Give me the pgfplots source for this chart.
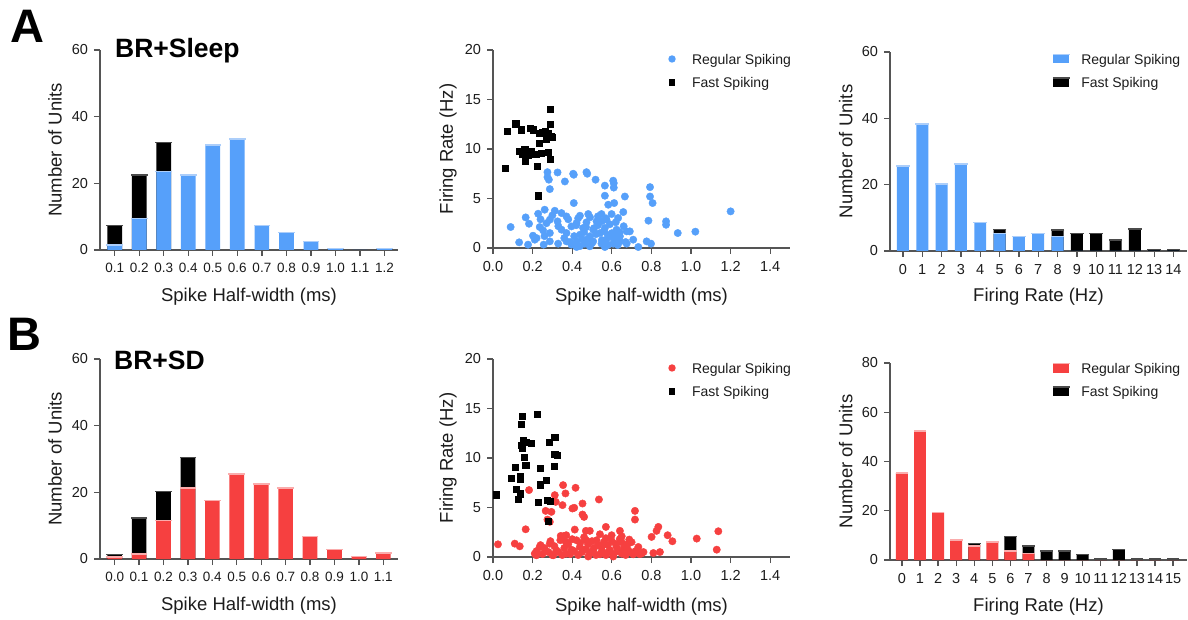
\documentclass[border=0pt]{standalone}
\usepackage{pgfplots}
\pgfplotsset{compat=1.18}
\usepackage{pgfplotstable}
\usepackage{fontspec}
\setmainfont{Liberation Sans}

\definecolor{rsBlue}{RGB}{86,160,250}
\definecolor{rsBlueCap}{RGB}{172,206,250}
\definecolor{rsRed}{RGB}{246,64,64}
\definecolor{rsRedCap}{RGB}{250,172,172}
\definecolor{fsCap}{RGB}{75,75,75}
\definecolor{axgray}{RGB}{85,85,85}
\definecolor{ink}{RGB}{28,28,28}

\newcommand{\axlab}{\fontsize{18.5pt}{22pt}\selectfont}
\newcommand{\ticklab}{\fontsize{14.5pt}{17pt}\selectfont}
\newcommand{\ticklabsm}{\fontsize{13.5pt}{16pt}\selectfont}
\newcommand{\leglab}{\fontsize{14pt}{17pt}\selectfont}

% ---------- histograms: regular / fast spiking counts per bin ----------
\pgfplotstableread{
bin reg fast
0  1.5  5.8
1  9.5  13.0
2  23.5 8.8
3  22.5 0
4  31.5 0
5  33.3 0
6  7.3  0
7  5.3  0
8  2.5  0
9  0.5  0
10 0    0
11 0.5  0
}\hwSleep

\pgfplotstableread{
bin reg fast
0  25.6 0
1  38.3 0
2  20.2 0
3  26.3 0
4  8.6  0
5  5.3  1.2
6  4.3  0
7  5.3  0
8  4.3  2.0
9  0    5.3
10 0    5.3
11 0    3.3
12 0    6.6
13 0    0.5
14 0    0.5
}\frSleep

\pgfplotstableread{
bin reg fast
0  0.6  0.7
1  1.5  10.8
2  11.6 8.7
3  21.3 9.2
4  17.6 0
5  25.5 0
6  22.5 0
7  21.3 0
8  6.7  0
9  2.8  0
10 0.7  0
11 1.8  0
}\hwSD

\pgfplotstableread{
bin reg fast
0  35.4 0
1  52.3 0
2  19.2 0
3  8.1  0
4  5.7  1.1
5  7.4  0
6  3.7  5.8
7  2.6  3.1
8  0    3.7
9  0    3.7
10 0    2.3
11 0    0.4
12 0    4.3
13 0    0.4
14 0    0.4
15 0    0.4
}\frSD

% ---------- scatter: spike half-width (ms) vs firing rate (Hz) ----------
\pgfplotstableread{
x y
0.287 14.04
0.287 12.5
0.115 12.56
0.073 11.8
0.143 11.95
0.189 12.1
0.203 11.95
0.236 11.6
0.262 11.8
0.275 11.4
0.295 11.3
0.267 11.0
0.233 10.6
0.132 9.76
0.160 9.93
0.149 9.5
0.177 9.4
0.164 8.75
0.216 9.5
0.245 9.6
0.278 9.66
0.290 9.0
0.062 8.08
0.223 8.25
0.228 5.29
0.300 11.2
0.280 11.6
0.190 9.8
0.250 11.7
}\fsSleep

\pgfplotstableread{
x y
0.275 7.66
0.326 7.63
0.405 7.5
0.408 7.4
0.472 7.66
0.476 7.5
0.275 7.16
0.282 6.9
0.363 6.72
0.518 6.9
0.607 6.8
0.610 6.55
0.565 6.3
0.610 6.1
0.793 6.15
0.287 5.95
0.565 5.28
0.666 5.2
0.793 5.2
0.806 4.54
0.408 4.54
0.582 4.37
0.612 4.54
1.200 3.7
0.261 3.87
0.312 3.76
0.228 3.46
0.346 3.53
0.371 3.19
0.439 3.26
0.481 3.43
0.548 3.43
0.599 3.43
0.658 3.63
0.165 3.09
0.287 2.86
0.326 2.69
0.422 2.52
0.472 2.59
0.523 2.69
0.573 2.86
0.632 3.03
0.785 2.76
0.874 2.69
0.874 2.35
0.089 2.12
0.182 2.45
0.236 2.12
0.253 1.78
0.346 1.85
0.396 2.18
0.455 2.02
0.506 1.85
0.565 2.02
0.624 1.85
0.675 1.68
0.691 1.68
0.933 1.51
1.022 1.65
0.202 1.24
0.287 1.51
0.371 1.51
0.439 1.34
0.489 1.18
0.540 1.51
0.590 1.18
0.641 1.18
0.708 0.84
0.132 0.57
0.177 0.34
0.211 0.84
0.256 0.34
0.287 0.67
0.329 0.44
0.371 0.67
0.396 0.34
0.422 0.67
0.464 0.44
0.506 0.67
0.548 0.44
0.573 0.84
0.607 0.44
0.641 0.67
0.675 0.44
0.734 0.10
0.776 0.67
0.798 0.44
0.565 0.10
0.422 0.10
0.489 0.17
0.30 3.3
0.33 2.2
0.36 1.0
0.38 2.9
0.41 1.2
0.43 3.0
0.45 0.9
0.47 2.1
0.49 3.1
0.50 0.5
0.52 1.4
0.53 2.3
0.55 0.8
0.56 1.7
0.57 3.0
0.58 0.3
0.59 2.4
0.60 1.5
0.61 0.9
0.62 2.6
0.63 0.3
0.64 1.6
0.66 2.2
0.67 0.6
0.55 2.7
0.51 2.0
0.46 1.6
0.42 2.3
0.39 0.6
0.27 2.5
0.24 2.9
0.22 1.0
0.26 1.2
0.48 0.9
0.58 1.3
0.53 3.2
0.44 0.2
0.62 1.2
}\rsSleep

\pgfplotstableread{
x y
0.017 6.3
0.143 13.4
0.149 14.26
0.223 14.43
0.152 11.8
0.143 11.3
0.169 11.6
0.194 11.46
0.147 11.05
0.282 11.6
0.312 12.1
0.312 10.4
0.324 10.3
0.157 10.1
0.165 9.27
0.113 9.1
0.309 9.17
0.240 8.93
0.091 7.95
0.138 8.16
0.138 7.89
0.270 7.75
0.240 7.31
0.118 6.81
0.138 6.47
0.127 5.8
0.228 5.56
0.273 5.73
0.287 5.66
0.278 3.64
0.138 6.34
}\fsSD

\pgfplotstableread{
x y
0.182 6.76
0.354 7.26
0.417 6.99
0.366 6.42
0.312 6.25
0.317 5.57
0.351 5.24
0.535 5.81
0.401 4.9
0.410 4.97
0.452 5.4
0.452 4.29
0.460 4.05
0.266 4.66
0.295 4.56
0.717 4.66
0.717 3.78
0.275 3.78
0.287 3.55
0.165 2.8
0.413 2.77
0.469 2.64
0.489 2.64
0.570 3.04
0.641 2.64
0.835 3.04
0.826 2.64
0.882 2.2
0.906 1.59
1.029 1.86
1.138 2.6
1.130 0.74
0.025 1.28
0.110 1.35
0.135 1.08
0.342 2.13
0.359 2.13
0.368 1.52
0.422 1.69
0.523 1.69
0.599 2.2
0.650 2.1
0.688 1.76
0.734 1.01
0.801 2.03
0.211 0.34
0.236 1.01
0.287 1.35
0.320 0.68
0.371 0.34
0.396 0.74
0.439 1.01
0.481 0.05
0.506 0.68
0.548 1.01
0.582 0.5
0.624 1.01
0.650 0.34
0.683 0.68
0.708 0.27
0.750 0.34
0.810 0.4
0.843 0.5
0.607 0.05
0.219 0.17
0.304 0.17
0.540 0.27
0.22 0.6
0.24 1.2
0.25 0.3
0.26 0.9
0.28 0.5
0.29 1.6
0.30 0.2
0.31 1.1
0.33 0.5
0.34 1.7
0.35 0.2
0.36 0.9
0.38 1.3
0.39 0.3
0.40 1.8
0.41 0.6
0.43 0.2
0.44 1.4
0.45 0.5
0.46 2.0
0.47 0.8
0.48 1.3
0.49 0.4
0.50 1.6
0.51 0.9
0.52 0.2
0.53 1.2
0.54 2.3
0.55 0.6
0.56 1.5
0.57 0.2
0.58 1.2
0.59 0.7
0.60 1.6
0.61 0.3
0.62 1.3
0.63 0.6
0.64 1.8
0.66 0.9
0.67 0.2
0.68 1.3
0.69 0.5
0.70 1.5
0.72 0.6
0.74 0.3
0.76 0.5
0.65 1.5
0.57 1.9
0.47 1.7
0.37 2.2
}\rsSD

\pgfplotsset{
  prism/.style={
    scale only axis, clip=false,
    axis lines=left,
    axis line style={-, draw=axgray, line width=1.3pt},
    tick style={draw=axgray, line width=1.3pt},
    tick align=outside,
    major tick length=6pt,
    tick label style={font=\ticklab, text=ink},
    xticklabel style={yshift=-4pt},
    yticklabel style={xshift=-2.5pt},
    label style={font=\axlab, text=ink},
    /pgf/number format/assume math mode=true,
    legend cell align=left,
    legend style={draw=none, fill=none, inner sep=0pt, outer sep=0pt,
      row sep=7.5pt, column sep=0pt, font=\leglab, text=ink,
      cells={anchor=west}, nodes={inner sep=0pt}},
  },
  legRS/.style={legend image code/.code={%
      \path[draw=none, fill=none] (0pt,-8pt) rectangle (28pt,8pt);
      \fill[draw=none, fill=#1] (8pt,1pt) circle (3.7pt);}},
  legFS/.style={legend image code/.code={%
      \path[draw=none, fill=none] (0pt,-8pt) rectangle (28pt,8pt);
      \fill[draw=none, fill=black] (4.9pt,-2.1pt) rectangle (11.1pt,4.1pt);}},
  legBar/.style 2 args={legend image code/.code={%
      \path[draw=none, fill=none] (0pt,-8pt) rectangle (28pt,8pt);
      \fill[draw=none, fill=#1] (0pt,-3.5pt) rectangle (16pt,5.5pt);
      \draw[draw=#2, line width=1.5pt] (-0.5pt,5.5pt) -- (16.5pt,5.5pt);}},
  rsMarks/.style={only marks, mark=*, color=#1, mark size=3.7pt,
      mark options={draw=none, fill=#1}, forget plot},
  fsMarks/.style={only marks, mark=square*, color=black, mark size=3.1pt,
      mark options={draw=none, fill=black}, forget plot},
}

% one stacked histogram from a table with columns bin, reg, fast:
% fast-spiking bar behind, regular bar in front, light caps on top
\newcommand{\stackedhist}[5]{% table, colour, cap colour, bar width, cap half-length
  \addplot[ybar, bar width=#4, bar shift=0pt, fill=black, draw=none, forget plot]
    table[x=bin, y expr={\thisrow{fast}>0 ? \thisrow{reg}+\thisrow{fast} : 0}] {#1};
  \addplot[ybar, bar width=#4, bar shift=0pt, fill=#2, draw=none, forget plot]
    table[x=bin, y=reg] {#1};
  \addplot[only marks, mark=-, mark size=#5, mark options={draw=#3, line width=1.5pt},
    restrict y to domain=0.05:200, forget plot]
    table[x=bin, y=reg] {#1};
  \addplot[only marks, mark=-, mark size=#5, mark options={draw=fsCap, line width=1.5pt},
    restrict y to domain=0.05:200, forget plot]
    table[x=bin, y expr={\thisrow{fast}>0 ? \thisrow{reg}+\thisrow{fast} : -1}] {#1};
}

\begin{document}
\begin{tikzpicture}
\useasboundingbox (0pt,0pt) rectangle (1188pt,619pt);

% ===== row A: BR+Sleep =====
\begin{axis}[prism, at={(100pt,369pt)}, anchor=south west,
  width=298pt, height=200pt,
  xmin=-0.6, xmax=11.55, ymin=0, ymax=60, ytick={0,20,40,60},
  xtick={0,...,11},
  xticklabels={0.1,0.2,0.3,0.4,0.5,0.6,0.7,0.8,0.9,1.0,1.1,1.2},
  x tick label style={font=\ticklabsm},
  xlabel={Spike Half-width (ms)}, ylabel={Number of Units},
  xlabel style={at={(axis description cs:0.5,0)}, anchor=base, yshift=-51.5pt},
  ylabel style={at={(axis description cs:-0.1285,0.5)}, anchor=base}]
\stackedhist{\hwSleep}{rsBlue}{rsBlueCap}{0.6}{8.3pt}
\end{axis}

\begin{axis}[prism, at={(493pt,371pt)}, anchor=south west,
  width=297pt, height=198pt,
  xmin=0, xmax=1.5, ymin=0, ymax=20,
  xtick={0,0.2,...,1.4}, ytick={0,5,10,15,20},
  xticklabel style={/pgf/number format/.cd, fixed, fixed zerofill, precision=1},
  scaled x ticks=false,
  xlabel={Spike half-width (ms)}, ylabel={Firing Rate (Hz)},
  xlabel style={at={(axis description cs:0.5,0)}, anchor=base, yshift=-53.5pt},
  ylabel style={at={(axis description cs:-0.1347,0.5)}, anchor=base},
  legend style={at={(rel axis cs:0.5758,0.99)}, anchor=north west}]
\addlegendimage{legRS=rsBlue}
\addlegendentry{Regular Spiking}
\addlegendimage{legFS}
\addlegendentry{Fast Spiking}
\addplot[rsMarks=rsBlue] table[x=x, y=y] {\rsSleep};
\addplot[fsMarks] table[x=x, y=y] {\fsSleep};
\end{axis}

\begin{axis}[prism, at={(890pt,368pt)}, anchor=south west,
  width=297pt, height=199pt,
  xmin=-0.67, xmax=14.7, ymin=0, ymax=60, ytick={0,20,40,60},
  xtick={0,...,14},
  xlabel={Firing Rate (Hz)}, ylabel={Number of Units},
  xlabel style={at={(axis description cs:0.5,0)}, anchor=base, yshift=-50.5pt},
  ylabel style={at={(axis description cs:-0.127,0.5)}, anchor=base},
  legend style={at={(rel axis cs:0.5455,1.0)}, anchor=north west}]
\addlegendimage{legBar={rsBlue}{rsBlueCap}}
\addlegendentry{Regular Spiking}
\addlegendimage{legBar={black}{fsCap}}
\addlegendentry{Fast Spiking}
\stackedhist{\frSleep}{rsBlue}{rsBlueCap}{0.62}{6.8pt}
\end{axis}

% ===== row B: BR+SD =====
\begin{axis}[prism, at={(100pt,60pt)}, anchor=south west,
  width=298pt, height=200pt,
  xmin=-0.6, xmax=11.6, ymin=0, ymax=60, ytick={0,20,40,60},
  xtick={0,...,11},
  xticklabels={0.0,0.1,0.2,0.3,0.4,0.5,0.6,0.7,0.8,0.9,1.0,1.1},
  x tick label style={font=\ticklabsm},
  xlabel={Spike Half-width (ms)}, ylabel={Number of Units},
  xlabel style={at={(axis description cs:0.5,0)}, anchor=base, yshift=-51pt},
  ylabel style={at={(axis description cs:-0.1285,0.5)}, anchor=base}]
\stackedhist{\hwSD}{rsRed}{rsRedCap}{0.6}{8.3pt}
\end{axis}

\begin{axis}[prism, at={(493pt,62pt)}, anchor=south west,
  width=297pt, height=198pt,
  xmin=0, xmax=1.5, ymin=0, ymax=20,
  xtick={0,0.2,...,1.4}, ytick={0,5,10,15,20},
  xticklabel style={/pgf/number format/.cd, fixed, fixed zerofill, precision=1},
  scaled x ticks=false,
  xlabel={Spike half-width (ms)}, ylabel={Firing Rate (Hz)},
  xlabel style={at={(axis description cs:0.5,0)}, anchor=base, yshift=-54pt},
  ylabel style={at={(axis description cs:-0.1347,0.5)}, anchor=base},
  legend style={at={(rel axis cs:0.5758,0.99)}, anchor=north west}]
\addlegendimage{legRS=rsRed}
\addlegendentry{Regular Spiking}
\addlegendimage{legFS}
\addlegendentry{Fast Spiking}
\addplot[rsMarks=rsRed] table[x=x, y=y] {\rsSD};
\addplot[fsMarks] table[x=x, y=y] {\fsSD};
\end{axis}

\begin{axis}[prism, at={(890pt,59pt)}, anchor=south west,
  width=297pt, height=197pt,
  xmin=-0.66, xmax=15.77, ymin=0, ymax=80, ytick={0,20,40,60,80},
  xtick={0,...,15},
  xlabel={Firing Rate (Hz)}, ylabel={Number of Units},
  xlabel style={at={(axis description cs:0.5,0)}, anchor=base, yshift=-51pt},
  ylabel style={at={(axis description cs:-0.127,0.5)}, anchor=base},
  legend style={at={(rel axis cs:0.5455,1.01)}, anchor=north west}]
\addlegendimage{legBar={rsRed}{rsRedCap}}
\addlegendentry{Regular Spiking}
\addlegendimage{legBar={black}{fsCap}}
\addlegendentry{Fast Spiking}
\stackedhist{\frSD}{rsRed}{rsRedCap}{0.66}{6.4pt}
\end{axis}

% panel letters and group titles
\node[anchor=base west, inner sep=0pt, font=\fontsize{47pt}{50pt}\selectfont\bfseries] at (10pt,576pt) {A};
\node[anchor=base west, inner sep=0pt, font=\fontsize{47pt}{50pt}\selectfont\bfseries] at (7pt,269pt) {B};
\node[anchor=base west, inner sep=0pt, font=\fontsize{26.5pt}{30pt}\selectfont\bfseries] at (115pt,561pt) {BR+Sleep};
\node[anchor=base west, inner sep=0pt, font=\fontsize{26.5pt}{30pt}\selectfont\bfseries] at (114pt,250pt) {BR+SD};
\end{tikzpicture}
\end{document}
